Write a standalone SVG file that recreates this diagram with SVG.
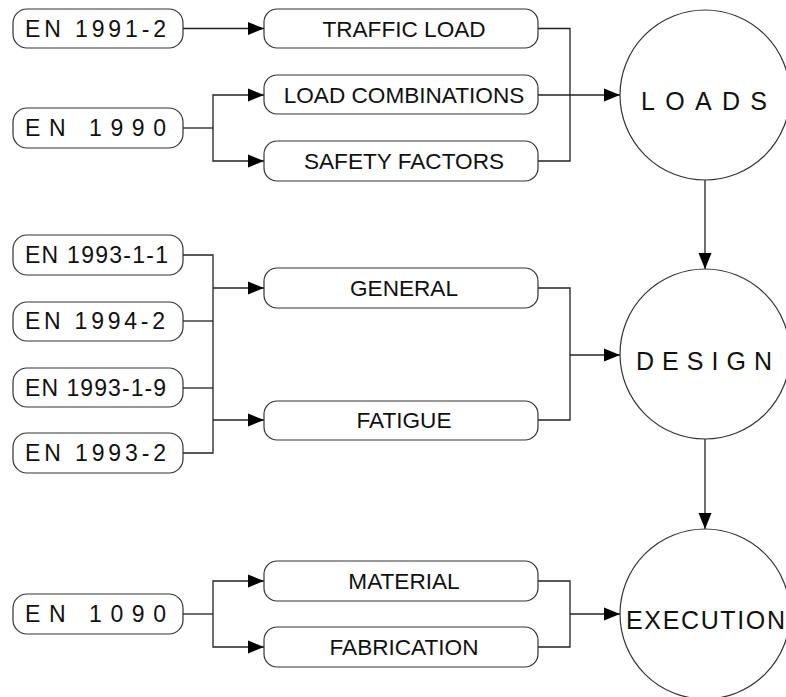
<svg xmlns="http://www.w3.org/2000/svg" width="786" height="697" viewBox="0 0 786 697">
  <style>
    .box { fill: #ffffff; stroke: #333333; stroke-width: 1.2; }
    .hub { fill: #ffffff; stroke: #333333; stroke-width: 1.2; }
    .conn { fill: none; stroke: #222222; stroke-width: 1.3; }
    .std { font-family: "Liberation Sans", Arial, sans-serif; font-size: 23px; fill: #111111; }
    .topic { font-family: "Liberation Sans", Arial, sans-serif; font-size: 22.6px; fill: #111111; text-anchor: middle; }
    .phase { font-family: "Liberation Sans", Arial, sans-serif; font-size: 25px; fill: #111111; }
  </style>
  <defs>
    <marker id="arrow" markerWidth="16" markerHeight="14" refX="16" refY="7" orient="auto" markerUnits="userSpaceOnUse">
      <path d="M0,0.5 L16,7 L0,13.5 Z" fill="#000000"/>
    </marker>
  </defs>
  <rect width="786" height="697" fill="#ffffff"/>

  <!-- connectors -->
  <g id="connectors" class="conn">
    <!-- loads section -->
    <path d="M183,28.5 H264" marker-end="url(#arrow)"/>
    <path d="M183,128 H213"/>
    <path d="M213,128 V95 H264" marker-end="url(#arrow)"/>
    <path d="M213,128 V161 H264" marker-end="url(#arrow)"/>
    <path d="M538,28.5 H570 V161 H538"/>
    <path d="M538,95 H620" marker-end="url(#arrow)"/>
    <path d="M705,180 V269" marker-end="url(#arrow)"/>
    <!-- design section -->
    <path d="M183,255 H213 V453 H183"/>
    <path d="M183,321 H213"/>
    <path d="M183,388 H213"/>
    <path d="M213,288 H264" marker-end="url(#arrow)"/>
    <path d="M213,420 H264" marker-end="url(#arrow)"/>
    <path d="M538,288 H570 V420 H538"/>
    <path d="M570,355 H620" marker-end="url(#arrow)"/>
    <path d="M705,439 V529" marker-end="url(#arrow)"/>
    <!-- execution section -->
    <path d="M183,614 H213"/>
    <path d="M213,614 V581 H264" marker-end="url(#arrow)"/>
    <path d="M213,614 V647 H264" marker-end="url(#arrow)"/>
    <path d="M538,581 H570 V647 H538"/>
    <path d="M570,614 H620" marker-end="url(#arrow)"/>
  </g>

  <!-- standards -->
  <g id="en1991-2"><rect class="box" x="13" y="9" width="170" height="39" rx="14"/>
    <text class="std" x="25" y="37" textLength="141" lengthAdjust="spacing">EN 1991-2</text></g>
  <g id="en1990"><rect class="box" x="13" y="108" width="170" height="40" rx="14"/>
    <text class="std" x="25" y="136" textLength="141" lengthAdjust="spacing">EN  1990</text></g>
  <g id="en1993-1-1"><rect class="box" x="13" y="235" width="170" height="40" rx="14"/>
    <text class="std" x="25" y="263" textLength="143" lengthAdjust="spacing">EN 1993-1-1</text></g>
  <g id="en1994-2"><rect class="box" x="13" y="302" width="170" height="39" rx="14"/>
    <text class="std" x="25" y="329" textLength="140" lengthAdjust="spacing">EN 1994-2</text></g>
  <g id="en1993-1-9"><rect class="box" x="13" y="368" width="170" height="39" rx="14"/>
    <text class="std" x="25" y="396" textLength="141" lengthAdjust="spacing">EN 1993-1-9</text></g>
  <g id="en1993-2"><rect class="box" x="13" y="433" width="170" height="40" rx="14"/>
    <text class="std" x="25" y="461" textLength="141" lengthAdjust="spacing">EN 1993-2</text></g>
  <g id="en1090"><rect class="box" x="13" y="594" width="170" height="40" rx="14"/>
    <text class="std" x="25" y="622" textLength="141" lengthAdjust="spacing">EN  1090</text></g>

  <!-- topics -->
  <g id="traffic-load"><rect class="box" x="264" y="9" width="274" height="39" rx="13"/>
    <text class="topic" x="404" y="36.5">TRAFFIC LOAD</text></g>
  <g id="load-combinations"><rect class="box" x="264" y="75" width="274" height="39" rx="13"/>
    <text class="topic" x="404" y="103">LOAD COMBINATIONS</text></g>
  <g id="safety-factors"><rect class="box" x="264" y="141" width="274" height="40" rx="13"/>
    <text class="topic" x="404" y="169">SAFETY FACTORS</text></g>
  <g id="general"><rect class="box" x="264" y="268" width="274" height="40" rx="13"/>
    <text class="topic" x="404" y="296">GENERAL</text></g>
  <g id="fatigue"><rect class="box" x="264" y="401" width="274" height="39" rx="13"/>
    <text class="topic" x="404" y="428">FATIGUE</text></g>
  <g id="material"><rect class="box" x="264" y="561" width="274" height="40" rx="13"/>
    <text class="topic" x="404" y="589">MATERIAL</text></g>
  <g id="fabrication"><rect class="box" x="264" y="627" width="274" height="40" rx="13"/>
    <text class="topic" x="404" y="655">FABRICATION</text></g>

  <!-- phases -->
  <g id="loads"><circle class="hub" cx="705" cy="95" r="85"/>
    <text class="phase" x="641" y="110" textLength="126" lengthAdjust="spacing">LOADS</text></g>
  <g id="design"><circle class="hub" cx="705" cy="354" r="85"/>
    <text class="phase" x="636" y="370" textLength="136" lengthAdjust="spacing">DESIGN</text></g>
  <g id="execution"><circle class="hub" cx="705" cy="614" r="85"/>
    <text class="phase" x="626" y="629" textLength="159" lengthAdjust="spacing">EXECUTION</text></g>
</svg>
